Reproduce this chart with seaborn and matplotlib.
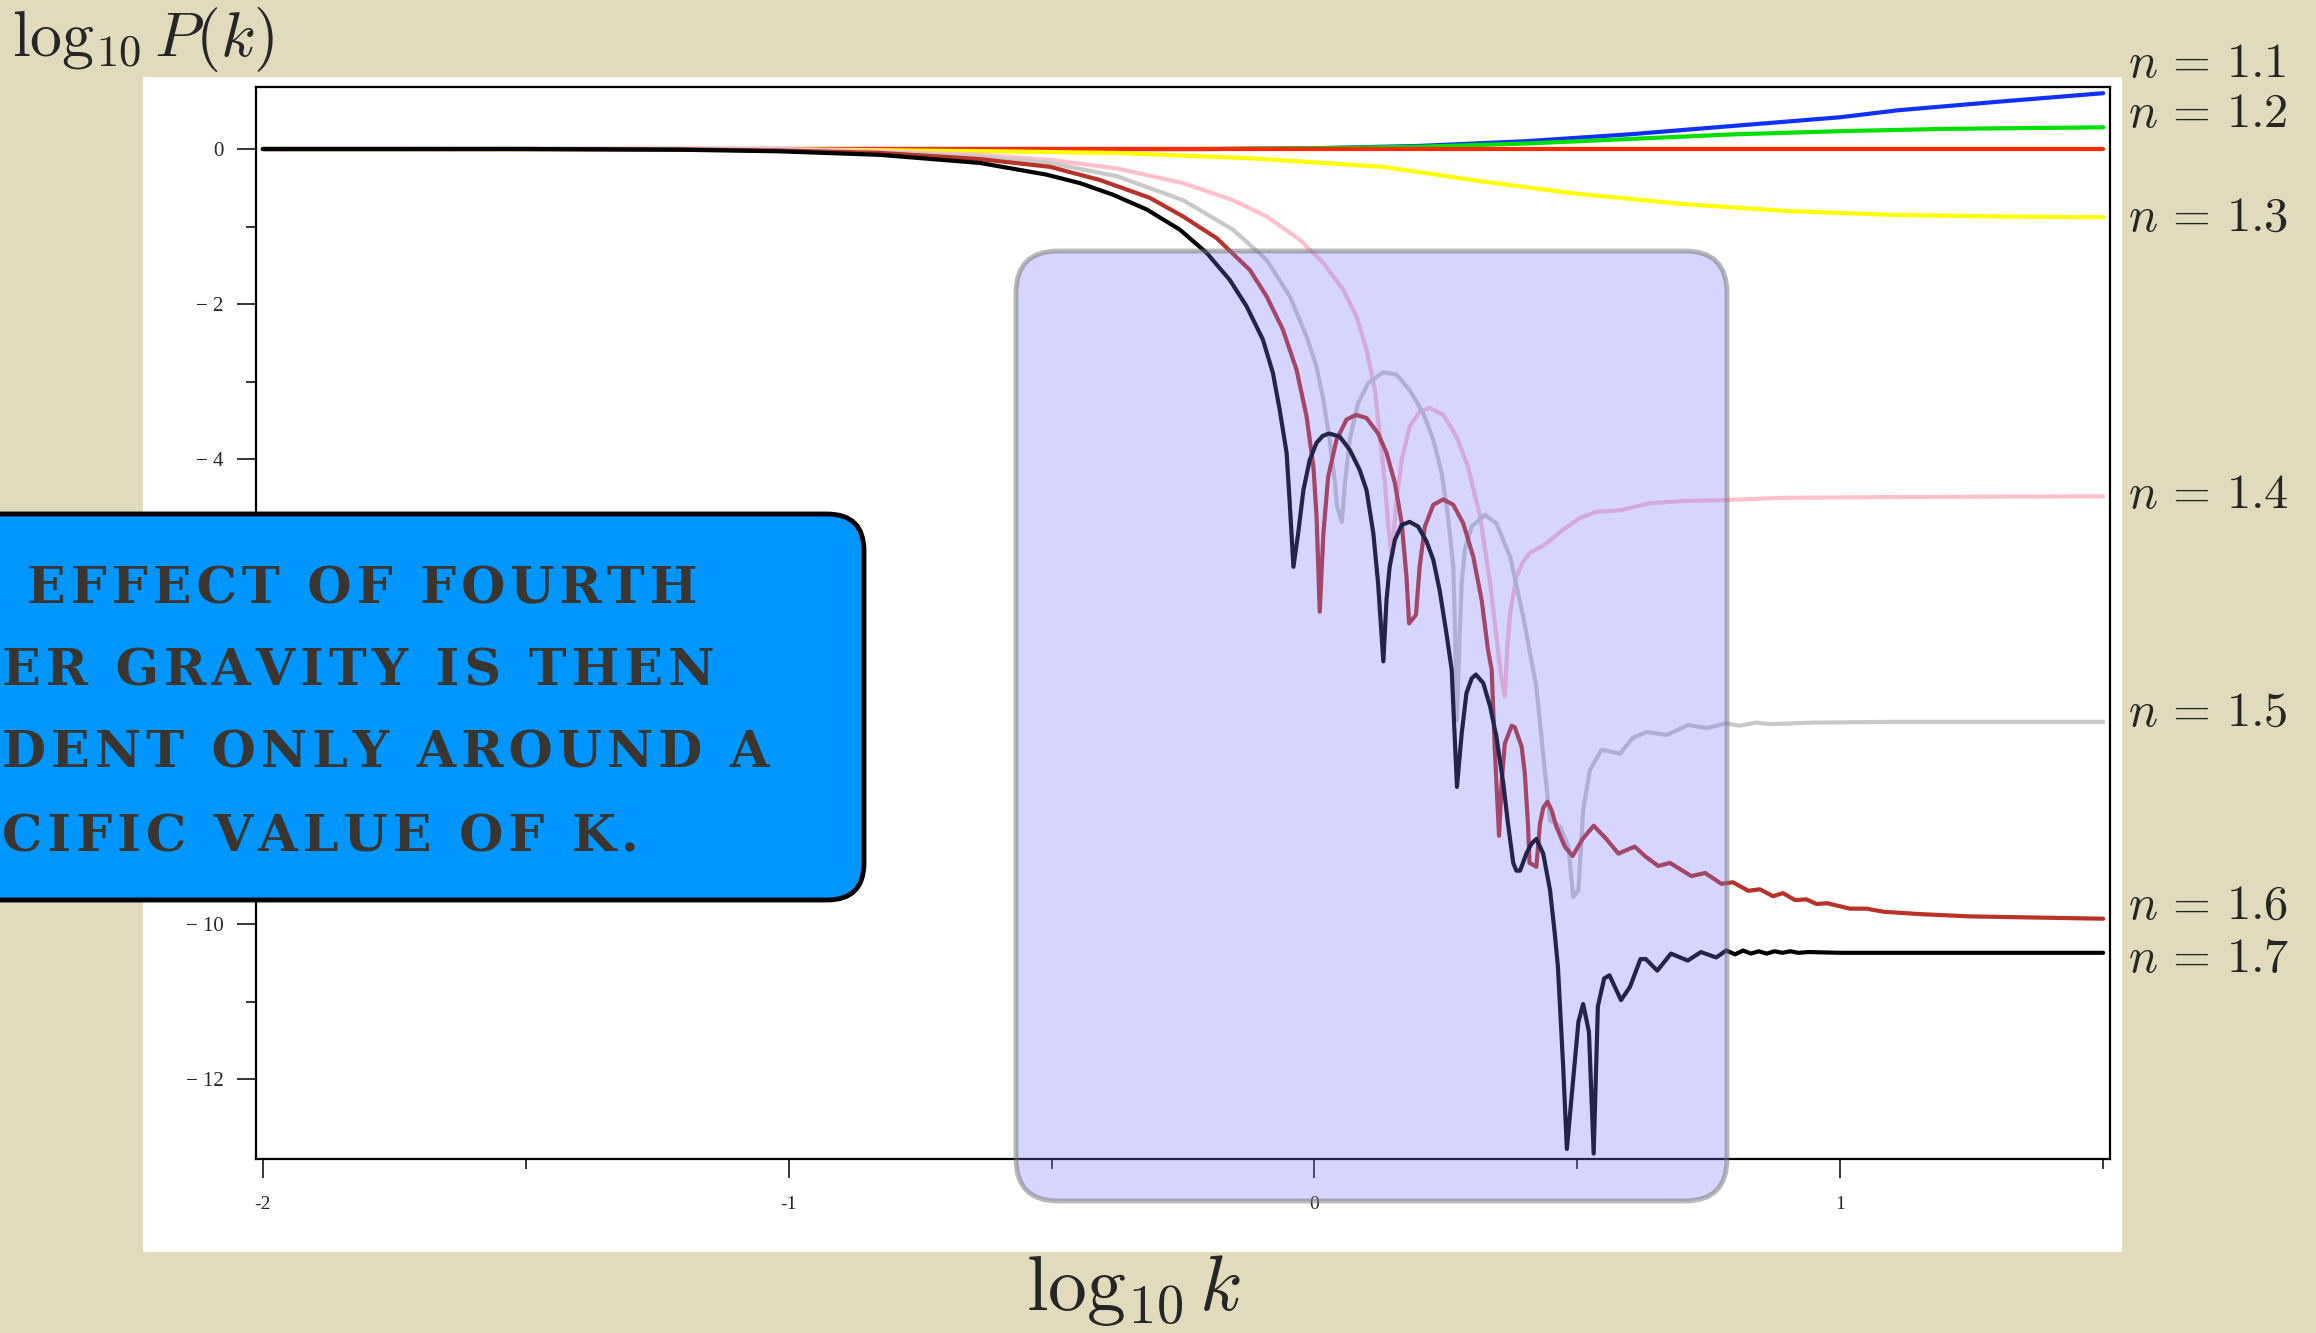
import matplotlib
matplotlib.use("Agg")
import numpy as np
import pandas as pd
import seaborn as sns
import matplotlib.pyplot as plt
from matplotlib.patches import FancyBboxPatch, Rectangle
from matplotlib.transforms import blended_transform_factory

# curves: (log10 k, log10 P(k))
blue_pts = [(-2.0, 0.0), (-0.2, 0.0), (0.0, 0.01), (0.2, 0.04), (0.4, 0.10), (0.6, 0.19),
            (0.8, 0.30), (1.0, 0.41), (1.11, 0.50), (1.3, 0.61), (1.5, 0.72)]
green_pts = [(-2.0, 0.0), (-0.2, 0.0), (0.0, 0.01), (0.2, 0.03), (0.4, 0.07), (0.6, 0.13),
             (0.8, 0.19), (1.0, 0.23), (1.2, 0.26), (1.5, 0.28)]
red_pts = [(-2.0, 0.0), (1.5, 0.0)]
yellow_pts = [(-2.0, 0.0), (-1.0, -0.005), (-0.6, -0.03), (-0.38, -0.05), (-0.12, -0.12),
              (0.13, -0.23), (0.32, -0.42), (0.49, -0.57), (0.7, -0.71), (0.9, -0.80),
              (1.1, -0.85), (1.3, -0.87), (1.5, -0.88)]
pink_pts = [(-2.0, 0.0), (-1.5, 0.0), (-1.017, 0.0), (-0.827, -0.03), (-0.636, -0.075),
            (-0.503, -0.14), (-0.376, -0.25), (-0.250, -0.44), (-0.155, -0.66), (-0.091, -0.87),
            (-0.028, -1.17), (0.017, -1.47), (0.055, -1.82), (0.080, -2.16), (0.099, -2.59),
            (0.115, -3.11), (0.124, -3.67), (0.134, -4.31), (0.140, -4.83), (0.147, -5.26),
            (0.156, -4.53), (0.166, -4.01), (0.181, -3.58), (0.200, -3.39), (0.219, -3.34),
            (0.245, -3.43), (0.270, -3.71), (0.292, -4.10), (0.315, -4.74), (0.334, -5.60),
            (0.349, -6.46), (0.355, -6.80), (0.362, -7.06), (0.367, -6.40), (0.372, -5.99),
            (0.384, -5.52), (0.397, -5.32), (0.410, -5.21), (0.441, -5.09), (0.473, -4.91),
            (0.505, -4.76), (0.536, -4.68), (0.581, -4.66), (0.638, -4.57), (0.701, -4.54),
            (0.777, -4.53), (0.891, -4.50), (1.1, -4.49), (1.5, -4.48)]
gray_pts = [(-2.0, 0.0), (-1.5, 0.0), (-1.2, -0.005), (-1.017, -0.01), (-0.827, -0.04),
            (-0.636, -0.10), (-0.503, -0.18), (-0.376, -0.35), (-0.250, -0.66), (-0.155, -1.04),
            (-0.091, -1.43), (-0.047, -1.90), (-0.015, -2.42), (0.004, -2.81), (0.017, -3.24),
            (0.029, -3.75), (0.039, -4.31), (0.043, -4.61), (0.052, -4.81), (0.058, -4.31),
            (0.067, -3.75), (0.083, -3.28), (0.102, -3.02), (0.131, -2.88), (0.156, -2.91),
            (0.181, -3.11), (0.207, -3.41), (0.226, -3.75), (0.242, -4.18), (0.254, -4.74),
            (0.264, -5.39), (0.267, -6.12), (0.271, -7.37), (0.276, -6.30), (0.280, -5.60),
            (0.286, -5.17), (0.299, -4.87), (0.324, -4.72), (0.346, -4.83), (0.372, -5.26),
            (0.397, -6.03), (0.422, -6.94), (0.438, -8.01), (0.448, -8.66), (0.467, -8.74),
            (0.483, -9.00), (0.492, -9.65), (0.502, -9.56), (0.511, -8.53), (0.524, -8.01),
            (0.546, -7.75), (0.581, -7.80), (0.605, -7.60), (0.632, -7.52), (0.670, -7.56),
            (0.711, -7.43), (0.746, -7.47), (0.783, -7.41), (0.808, -7.44), (0.841, -7.40),
            (0.866, -7.42), (0.95, -7.40), (1.1, -7.39), (1.5, -7.39)]
brown_pts = [(-2.0, 0.0), (-1.5, 0.0), (-1.2, -0.005), (-1.017, -0.02), (-0.827, -0.05),
             (-0.636, -0.13), (-0.503, -0.23), (-0.408, -0.40), (-0.313, -0.63), (-0.250, -0.87),
             (-0.186, -1.15), (-0.123, -1.56), (-0.091, -1.90), (-0.060, -2.33), (-0.034, -2.85),
             (-0.015, -3.45), (-0.002, -4.10), (0.004, -4.74), (0.010, -5.97), (0.017, -4.96),
             (0.026, -4.23), (0.042, -3.75), (0.061, -3.49), (0.079, -3.43), (0.099, -3.47),
             (0.121, -3.67), (0.137, -3.92), (0.153, -4.31), (0.166, -4.83), (0.175, -5.52),
             (0.180, -6.12), (0.193, -6.01), (0.200, -5.39), (0.210, -4.87), (0.226, -4.59),
             (0.245, -4.52), (0.264, -4.59), (0.283, -4.83), (0.302, -5.26), (0.318, -5.82),
             (0.330, -6.46), (0.337, -6.72), (0.343, -7.75), (0.351, -8.86), (0.356, -8.18),
             (0.362, -7.67), (0.375, -7.44), (0.381, -7.46), (0.394, -7.71), (0.400, -8.05),
             (0.406, -8.70), (0.409, -9.21), (0.422, -9.26), (0.429, -8.70), (0.435, -8.50),
             (0.443, -8.42), (0.451, -8.53), (0.460, -8.74), (0.476, -9.00), (0.491, -9.12),
             (0.510, -8.90), (0.531, -8.73), (0.555, -8.90), (0.578, -9.09), (0.609, -9.00),
             (0.630, -9.13), (0.654, -9.25), (0.676, -9.21), (0.717, -9.38), (0.743, -9.34),
             (0.774, -9.48), (0.796, -9.46), (0.825, -9.57), (0.847, -9.55), (0.872, -9.64),
             (0.891, -9.60), (0.914, -9.69), (0.935, -9.68), (0.955, -9.74), (0.975, -9.73),
             (1.018, -9.80), (1.05, -9.80), (1.082, -9.84), (1.15, -9.87), (1.246, -9.90),
             (1.5, -9.93)]
black_pts = [(-2.0, 0.0), (-1.5, 0.0), (-1.2, -0.01), (-1.017, -0.03), (-0.827, -0.075),
             (-0.636, -0.18), (-0.510, -0.33), (-0.446, -0.44), (-0.383, -0.59), (-0.319, -0.78),
             (-0.256, -1.04), (-0.205, -1.34), (-0.161, -1.69), (-0.129, -2.03), (-0.098, -2.46),
             (-0.079, -2.89), (-0.066, -3.37), (-0.053, -3.92), (-0.047, -4.57), (-0.040, -5.39),
             (-0.031, -4.96), (-0.021, -4.40), (-0.009, -4.01), (0.004, -3.79), (0.016, -3.70),
             (0.028, -3.67), (0.048, -3.71), (0.067, -3.88), (0.086, -4.14), (0.099, -4.40),
             (0.112, -4.96), (0.121, -5.60), (0.131, -6.61), (0.137, -5.82), (0.143, -5.39),
             (0.153, -5.04), (0.166, -4.85), (0.181, -4.81), (0.197, -4.87), (0.213, -5.06),
             (0.226, -5.30), (0.238, -5.69), (0.251, -6.25), (0.261, -6.72), (0.271, -8.23),
             (0.280, -7.54), (0.289, -7.02), (0.299, -6.83), (0.307, -6.78), (0.321, -6.89),
             (0.334, -7.19), (0.346, -7.58), (0.359, -8.18), (0.368, -8.70), (0.378, -9.21),
             (0.384, -9.31), (0.391, -9.31), (0.403, -9.09), (0.413, -8.96), (0.422, -8.90),
             (0.435, -9.09), (0.448, -9.56), (0.457, -10.12), (0.463, -10.55), (0.473, -11.84),
             (0.480, -12.90), (0.502, -11.26), (0.511, -11.03), (0.522, -11.39), (0.531, -12.96),
             (0.539, -11.06), (0.551, -10.70), (0.561, -10.66), (0.583, -10.98), (0.600, -10.81),
             (0.620, -10.45), (0.630, -10.45), (0.652, -10.60), (0.678, -10.38), (0.710, -10.47),
             (0.735, -10.36), (0.764, -10.43), (0.783, -10.34), (0.800, -10.39), (0.815, -10.34),
             (0.830, -10.38), (0.845, -10.35), (0.860, -10.38), (0.875, -10.35), (0.890, -10.37),
             (0.905, -10.35), (0.920, -10.37), (0.940, -10.36), (1.0, -10.37), (1.5, -10.37)]

series = ["n=1.1", "n=1.2", "n=1.0", "n=1.3", "n=1.4", "n=1.5", "n=1.6", "n=1.7"]
series_pts = [blue_pts, green_pts, red_pts, yellow_pts, pink_pts, gray_pts, brown_pts, black_pts]
series_colors = ["#1030ff", "#00e000", "#ff2a00", "#ffff00", "#ffc0cb", "#c8c8c8", "#b83228", "#000000"]

label_text = ["$n\\,=\\,1.1$", "$n\\,=\\,1.2$", "$n\\,=\\,1.3$", "$n\\,=\\,1.4$",
              "$n\\,=\\,1.5$", "$n\\,=\\,1.6$", "$n\\,=\\,1.7$"]
label_y = [1.08, 0.44, -0.90, -4.48, -7.28, -9.78, -10.46]

note_lines = ["EFFECT OF FOURTH", "ER GRAVITY IS THEN", "DENT ONLY AROUND A", "CIFIC VALUE OF K."]

rows = []
for name, pts in zip(series, series_pts):
    for x, y in pts:
        rows.append({"curve": name, "log10k": x, "logP": y})
df = pd.DataFrame(rows)

sns.set_theme(style="white")
plt.rcParams["mathtext.fontset"] = "cm"
plt.rcParams["font.family"] = ["Liberation Serif", "DejaVu Serif"]

bg = "#e2dabd"
fig = plt.figure(figsize=(23.16, 13.33), dpi=100, facecolor=bg)
inch = fig.dpi_scale_trans

# white panel behind the plot
fig.add_artist(Rectangle((1.43, 0.81), 19.79, 11.75, transform=inch,
                         facecolor="white", edgecolor="none", zorder=-1))

ax = fig.add_axes([0.11054, 0.13053, 0.80052, 0.80420])
ax.set_facecolor("white")
sns.lineplot(data=df, x="log10k", y="logP", hue="curve", hue_order=series,
             palette=dict(zip(series, series_colors)), estimator=None, sort=False,
             linewidth=3.0, legend=False, ax=ax)

ax.set_xlim(-2.013, 1.513)
ax.set_ylim(-13.03, 0.8)
ax.set_xticks([-2, -1, 0, 1])
ax.set_xticklabels(["-2", "-1", "0", "1"])
ax.set_xticks([-1.5, -0.5, 0.5, 1.5], minor=True)
ax.set_yticks([0, -2, -4, -6, -8, -10, -12])
# -6 and -8 sit under the callout box, so they carry no visible label
ax.set_yticklabels(["0", "\u2212 2", "\u2212 4", "", "", "\u2212 10", "\u2212 12"])
ax.set_yticks([-1, -3, -5, -7, -9, -11], minor=True)
ax.tick_params(which="major", direction="out", length=13.5, width=1.1, color="black",
               bottom=True, left=True)
ax.tick_params(which="minor", direction="out", length=7, width=1.1, color="black",
               bottom=True, left=True)
ax.tick_params(axis="x", labelsize=14, pad=13)
ax.tick_params(axis="y", labelsize=15, pad=10)
ax.set_xlabel("")
ax.set_ylabel("")
for s in ax.spines.values():
    s.set_color("black")
    s.set_linewidth(1.6)

# n labels at the right
tr = blended_transform_factory(ax.transAxes, ax.transData)
for txt, yv in zip(label_text, label_y):
    ax.text(1.0097, yv, txt, transform=tr, fontsize=35, ha="left", va="center",
            clip_on=False)

fig.text(0.12, 12.93, r"$\log_{10}P(k)$", transform=inch, fontsize=46,
         ha="left", va="center")
fig.text(11.34, 0.43, r"$\log_{10}k$", transform=inch, fontsize=56,
         ha="center", va="center")

# highlighted k range
fig.add_artist(FancyBboxPatch((10.16, 1.32), 7.11, 9.50,
                              boxstyle="round,pad=0,rounding_size=0.42", transform=inch,
                              facecolor=(0.46, 0.46, 0.98, 0.30),
                              edgecolor=(0.45, 0.45, 0.45, 0.5), linewidth=3.5, zorder=5))

# callout box
fig.add_artist(FancyBboxPatch((-0.6, 4.33), 9.24, 3.86,
                              boxstyle="round,pad=0,rounding_size=0.37", transform=inch,
                              facecolor="#0096ff", edgecolor="black", linewidth=3.5, zorder=6))
note_left = [0.27, 0.02, 0.02, 0.02]
note_base = [7.30, 6.48, 5.65, 4.82]
for line, xl, yb in zip(note_lines, note_left, note_base):
    spaced = "\u200a".join(line)
    fig.text(xl, yb, spaced, transform=inch, fontsize=36.5, fontweight="bold",
             family=["DejaVu Serif"], color="#3a352e", ha="left", va="baseline", zorder=7)

fig.savefig("out.png", dpi=100, facecolor=bg)
